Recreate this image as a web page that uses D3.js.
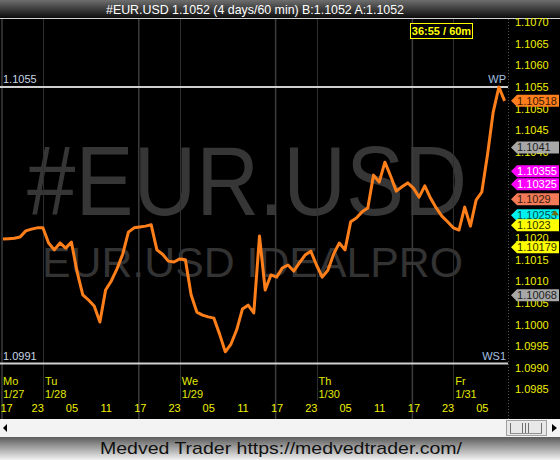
<!DOCTYPE html>
<html>
<head>
<meta charset="utf-8">
<script src="https://cdn.jsdelivr.net/npm/d3@7"></script>
<style>
  html, body { margin: 0; padding: 0; background: #000; }
  svg { display: block; font-family: "Liberation Sans", Arial, sans-serif; }
</style>
</head>
<body>
<svg id="chart" width="560" height="460"></svg>
<script>
/* global d3 */

/** Hourly closes, 1/27 17:00 through 1/31 09:00 */
const CLOSES = [
  1.10198, 1.10199, 1.10200, 1.10203, 1.10217, 1.10221, 1.10224, 1.10224,
  1.10189, 1.10173, 1.10189, 1.10177, 1.10191, 1.10122, 1.10069, 1.10057,
  1.10043, 1.10006, 1.10080, 1.10101, 1.10129, 1.10163, 1.10214, 1.10224,
  1.10226, 1.10228, 1.10231, 1.10173, 1.10163, 1.10147, 1.10145, 1.10152,
  1.10150, 1.10069, 1.10029, 1.10022, 1.10018, 1.10015, 1.09978, 1.09937,
  1.09955, 1.09988, 1.10036, 1.10045, 1.10027, 1.10205, 1.10080, 1.10115,
  1.10110, 1.10131, 1.10138, 1.10124, 1.10143, 1.10161, 1.10170, 1.10138,
  1.10110, 1.10126, 1.10163, 1.10189, 1.10173, 1.10238, 1.10247, 1.10261,
  1.10270, 1.10346, 1.10330, 1.10376, 1.10344, 1.10309, 1.10319, 1.10328,
  1.10316, 1.10295, 1.10321, 1.10293, 1.10270, 1.10251, 1.10238, 1.10224,
  1.10219, 1.10272, 1.10228, 1.10288, 1.10307, 1.10393, 1.10492, 1.10550,
  1.10518
];

const HOUR_LABELS = ["17", "23", "05", "11", "17", "23", "05", "11", "17", "23", "05", "11", "17", "23", "05"];
const DAY_NAMES = ["Mo", "Tu", "We", "Th", "Fr"];
const DAY_DATES = ["1/27", "1/28", "1/29", "1/30", "1/31"];
// price scale labels left visible by the tags
const PRICE_TICKS = [
  1.1070, 1.1065, 1.1060, 1.1055, 1.1050, 1.1045, 1.1040,
  1.1020, 1.1015, 1.1010, 1.1005, 1.1000, 1.0995, 1.0990, 1.0985
];

const PIVOTS = [
  { name: "WP", value: 1.1055, label: "1.1055" },
  { name: "WS1", value: 1.0991, label: "1.0991" }
];

const TAG_VALUES = ["1.10518", "1.1041", "1.10355", "1.10325", "1.1029", "1.10253", "1.1023", "1.10179", "1.10068"];
const TAG_KINDS = ["last", "grey", "magenta", "magenta", "salmon", "cyan", "yellow", "yellow", "grey"];

const TITLE = "#EUR.USD 1.1052 (4 days/60 min) B:1.1052 A:1.1052";
const TIMER = "36:55 / 60m";
const FOOTER = "Medved Trader https://medvedtrader.com/";

(function() {
  const svg = d3.select("#chart");
  const W = 560;
  const plotTop = 19;
  const plotBottom = 419;
  const plotRight = 508;
  const font = "\"Liberation Sans\", Arial, sans-serif";

  const TAG_STYLE = {
    last: { fill: "#ff7f1e", text: "#3a1800" },
    grey: { fill: "#a8a8a8", text: "#202020" },
    magenta: { fill: "#ff00ff", text: "#ffffff" },
    salmon: { fill: "#f27a57", text: "#3a1a10" },
    cyan: { fill: "#00f0f0", text: "#004848" },
    yellow: { fill: "#ffff00", text: "#303000" }
  };

  const start = new Date(Date.UTC(2020, 0, 27, 17));
  const hour = i => d3.utcHour.offset(start, i);

  const x = d3
    .scaleUtc()
    .domain([start, hour(88)])
    .range([3, 3 + 88 * 5.7]);

  const y = d3
    .scaleLinear()
    .domain([1.1055, 1.0991])
    .range([87, 363.5]);

  const defs = svg.append("defs");
  const tg = defs.append("linearGradient").attr("id", "titleGrad").attr("x1", 0).attr("x2", 0).attr("y1", 0).attr("y2", 1);
  tg.append("stop").attr("offset", "0%").attr("stop-color", "#6e6e6e");
  tg.append("stop").attr("offset", "100%").attr("stop-color", "#0c0c0c");
  const fg = defs.append("linearGradient").attr("id", "footGrad").attr("x1", 0).attr("x2", 0).attr("y1", 0).attr("y2", 1);
  fg.append("stop").attr("offset", "0%").attr("stop-color", "#5c5c5c");
  fg.append("stop").attr("offset", "100%").attr("stop-color", "#f2f2f2");

  // background
  svg.append("rect").attr("width", W).attr("height", 460).attr("fill", "#000");

  // title bar
  svg.append("rect").attr("width", W).attr("height", 18).attr("fill", "url(#titleGrad)");
  svg.append("rect").attr("y", 18).attr("width", W).attr("height", 1).attr("fill", "#d0d0d0");
  svg
    .append("text")
    .attr("x", 255)
    .attr("y", 14)
    .attr("text-anchor", "middle")
    .attr("fill", "#fff")
    .attr("font-size", 13)
    .attr("textLength", 298)
    .attr("lengthAdjust", "spacingAndGlyphs")
    .text(TITLE);

  // watermarks
  svg
    .append("text")
    .attr("x", 27)
    .attr("y", 215)
    .attr("fill", "#363636")
    .attr("font-size", 98)
    .attr("textLength", 440)
    .attr("lengthAdjust", "spacingAndGlyphs")
    .text("#EUR.USD");
  svg
    .append("text")
    .attr("x", 42)
    .attr("y", 277)
    .attr("fill", "#333")
    .attr("font-size", 42)
    .attr("textLength", 421)
    .attr("lengthAdjust", "spacingAndGlyphs")
    .text("EUR.USD IDEALPRO");

  // day separators: 17:00 session starts (full height) and midnights (shorter)
  const sessions = d3.range(0, 4).map(d => hour(d * 24));
  const midnights = d3.range(0, 4).map(d => hour(7 + d * 24));
  svg
    .selectAll(".session")
    .data(sessions)
    .enter()
    .append("line")
    .attr("x1", d => x(d) - 1)
    .attr("x2", d => x(d) - 1)
    .attr("y1", plotTop)
    .attr("y2", plotBottom)
    .attr("stroke", "#3c3c3c")
    .attr("stroke-width", 1.5);
  svg
    .selectAll(".midnight")
    .data(midnights)
    .enter()
    .append("line")
    .attr("x1", d => Math.round(x(d)) + 0.5)
    .attr("x2", d => Math.round(x(d)) + 0.5)
    .attr("y1", plotTop)
    .attr("y2", 400)
    .attr("stroke", "#2e2e2e");

  // pivot lines
  PIVOTS.forEach(p => {
    const py = y(p.value);
    svg
      .append("line")
      .attr("x1", 0)
      .attr("x2", plotRight)
      .attr("y1", py)
      .attr("y2", py)
      .attr("stroke", "#cfcfcf")
      .attr("stroke-width", 2);
    svg
      .append("text")
      .attr("x", 3)
      .attr("y", py - 4)
      .attr("fill", "#c8d6e6")
      .attr("font-size", 11)
      .text(p.label);
    svg
      .append("text")
      .attr("x", plotRight - 2)
      .attr("y", py - 4)
      .attr("text-anchor", "end")
      .attr("fill", "#a8c0e0")
      .attr("font-size", 11)
      .text(p.name);
  });

  // price line
  const line = d3
    .line()
    .x((d, i) => x(hour(i)))
    .y(d => y(d));
  svg
    .append("path")
    .datum(CLOSES)
    .attr("d", line)
    .attr("fill", "none")
    .attr("stroke", "#ff7f1a")
    .attr("stroke-width", 3)
    .attr("stroke-linejoin", "round");

  // bar timer box
  svg
    .append("rect")
    .attr("x", 410.5)
    .attr("y", 23.5)
    .attr("width", 62)
    .attr("height", 15)
    .attr("fill", "#000")
    .attr("stroke", "#ffff00");
  svg
    .append("text")
    .attr("x", 441.5)
    .attr("y", 35)
    .attr("text-anchor", "middle")
    .attr("fill", "#ffff00")
    .attr("font-size", 11)
    .attr("font-weight", "bold")
    .text(TIMER);

  // right price axis
  svg
    .append("line")
    .attr("x1", plotRight + 0.5)
    .attr("x2", plotRight + 0.5)
    .attr("y1", plotTop)
    .attr("y2", plotBottom)
    .attr("stroke", "#555")
    .attr("stroke-dasharray", "1,2");
  const yAxis = svg
    .append("g")
    .attr("transform", `translate(${plotRight + 7},0)`)
    .call(
      d3
        .axisRight(y)
        .tickValues(PRICE_TICKS)
        .tickFormat(d3.format(".4f"))
        .tickSize(0)
        .tickPadding(0)
    );
  yAxis.select(".domain").remove();
  yAxis
    .selectAll("text")
    .attr("fill", "#f0f000")
    .attr("font-size", 11)
    .attr("font-family", font);

  // price tags
  const tags = svg
    .selectAll(".tag")
    .data(TAG_VALUES)
    .enter()
    .append("g")
    .attr("transform", d => `translate(${plotRight + 3},${y(+d)})`);
  tags
    .append("path")
    .attr("d", "M0,0 L6,-6 L48,-6 L48,6 L6,6 Z")
    .attr("fill", (d, i) => TAG_STYLE[TAG_KINDS[i]].fill);
  tags
    .append("text")
    .attr("x", 6)
    .attr("y", 4)
    .attr("fill", (d, i) => TAG_STYLE[TAG_KINDS[i]].text)
    .attr("font-size", 11)
    .attr("textLength", d => (d.length > 6 ? 40 : null))
    .attr("lengthAdjust", "spacingAndGlyphs")
    .text(d => d);
  svg
    .append("path")
    .attr("d", `M551,${y(1.1026) + 3} L555,${y(1.1026) - 2} L559,${y(1.1026) + 3} Z`)
    .attr("fill", "#6a6a10");

  // bottom time labels
  const hourTicks = HOUR_LABELS.map((d, i) => hour(i * 6));
  const xAxis = svg
    .append("g")
    .attr("transform", "translate(0,404)")
    .call(
      d3
        .axisBottom(x)
        .tickValues(hourTicks)
        .tickFormat((d, i) => HOUR_LABELS[i])
        .tickSize(0)
        .tickPadding(0)
    );
  xAxis.select(".domain").remove();
  xAxis
    .selectAll("text")
    .attr("fill", "#f0f000")
    .attr("font-size", 11)
    .attr("font-family", font);
  // first label sits against the left edge
  xAxis
    .select(".tick text")
    .attr("text-anchor", "start")
    .attr("x", -3);

  const dayPos = [start].concat(midnights);
  const days = svg
    .selectAll(".day")
    .data(DAY_NAMES)
    .enter()
    .append("g")
    .attr("transform", (d, i) => `translate(${i === 0 ? 3 : x(dayPos[i]) + 2},0)`);
  days
    .append("text")
    .attr("y", 385)
    .attr("fill", "#e0e800")
    .attr("font-size", 11)
    .text(d => d);
  days
    .append("text")
    .attr("y", 398)
    .attr("fill", "#e0e800")
    .attr("font-size", 11)
    .text((d, i) => DAY_DATES[i]);

  // scrollbar
  svg.append("rect").attr("y", plotBottom).attr("width", W).attr("height", 18).attr("fill", "#f3f3f3");
  svg.append("path").attr("d", "M3,428 L7,424 L7,432 Z").attr("fill", "#000");
  svg
    .append("rect")
    .attr("x", 506.5)
    .attr("y", 420.5)
    .attr("width", 40)
    .attr("height", 15)
    .attr("fill", "#e8e8e8")
    .attr("stroke", "#a0a0a0");
  [510, 541, 522, 525, 528].forEach(px => {
    svg
      .append("line")
      .attr("x1", px + 0.5)
      .attr("x2", px + 0.5)
      .attr("y1", 423)
      .attr("y2", 433)
      .attr("stroke", "#707070");
  });
  svg.append("line").attr("x1", 510).attr("x2", 542).attr("y1", 433.5).attr("y2", 433.5).attr("stroke", "#909090");
  svg.append("path").attr("d", "M552,424 L557,428 L552,432 Z").attr("fill", "#000");

  // footer
  svg.append("rect").attr("y", 437).attr("width", W).attr("height", 23).attr("fill", "url(#footGrad)");
  svg
    .append("text")
    .attr("x", 281)
    .attr("y", 454)
    .attr("text-anchor", "middle")
    .attr("fill", "#111")
    .attr("font-size", 17)
    .attr("textLength", 362)
    .attr("lengthAdjust", "spacingAndGlyphs")
    .text(FOOTER);
})();
</script>
</body>
</html>
